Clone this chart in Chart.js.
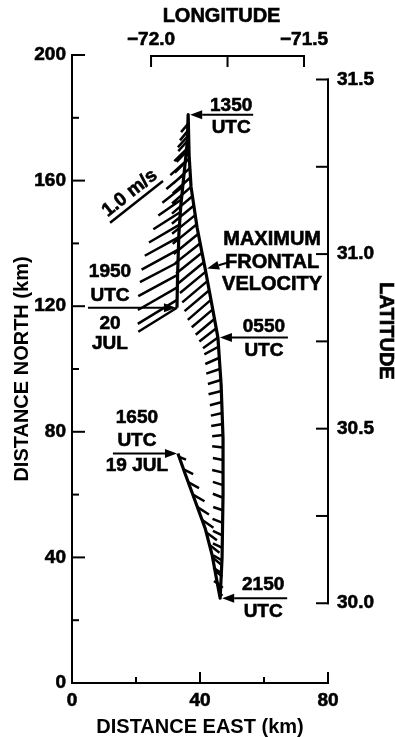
<!DOCTYPE html>
<html>
<head>
<meta charset="utf-8">
<style>
  html, body { margin: 0; padding: 0; background: #fff; }
  canvas { display: block; }
</style>
<script src="https://cdn.jsdelivr.net/npm/chart.js@4.4.1/dist/chart.umd.min.js"></script>
</head>
<body>
<canvas id="front" width="395" height="737"></canvas>
<script>
// front track (km east, km north), in time order:
// 1650 UTC 19 JUL -> 2150 UTC -> 0550 UTC -> 1350 UTC -> 1950 UTC 20 JUL
const trackEast  = [33.1, 35.3, 38.4, 41.6, 43.8, 45.3, 46.3, 46.9, 47.2, 47.2, 46.6, 45.6, 43.8, 41.6, 39.1, 37.2, 36.6, 36.3, 36.0, 35.3, 34.0, 33.4, 33.0, 32.8];
const trackNorth = [73.1, 66.8, 58.2, 49.3, 40.7, 32.4, 27.0, 40.0, 60.0, 78.0, 95.0, 110.0, 120.0, 132.0, 145.0, 158.0, 168.0, 181.0, 172.0, 165.0, 152.0, 143.0, 130.0, 119.5];

// time marks along the track (index into the track arrays)
const stampIndex = [0, 6, 11, 17, 23];
const stampText  = [['1650', 'UTC', '19 JUL'], ['2150', 'UTC'], ['0550', 'UTC'], ['1350', 'UTC'], ['1950', 'UTC', '20', 'JUL']];
const maxVelocityIndex = 13;

// velocity sticks: base point on the track (km) and components (m/s)
const vecEast = [
  33.5, 34.9, 36.3, 37.8, 39.2, 40.6, 41.9, 42.9, 43.9, 44.6, 45.4, 45.9,
  46.5, 46.7, 46.9, 47.0, 47.0, 47.1, 47.1, 47.2, 47.2, 47.2, 47.2, 47.2,
  47.2, 47.1, 47.0, 46.9, 46.7, 46.5, 46.2, 45.9, 45.6,
  45.6, 45.1, 44.6, 44.0, 43.4, 42.8, 42.3, 41.8, 41.2, 40.6, 40.0, 39.4, 38.9, 38.5, 38.0, 37.6, 37.2, 37.0, 36.8, 36.6, 36.5, 36.4, 36.3,
  36.2, 36.05, 35.8, 35.4, 35.0, 34.6, 34.2, 33.9, 33.6, 33.35, 33.2, 33.1, 33.0, 32.9, 32.85, 32.8
];
const vecNorth = [
  72, 68, 64, 60, 56, 52, 48, 44, 40, 36, 32, 29,
  31, 35, 39, 43, 47, 51, 55, 59, 63, 67, 71, 75,
  79, 82.5, 86, 89.5, 93, 96.5, 100, 103.5, 107,
  110, 113, 116, 119, 122, 125, 128, 131, 134, 137, 140, 143, 146, 149, 152, 155, 158, 161, 164, 167, 170, 173, 176,
  178, 174, 170, 166, 162, 158, 154, 150, 146, 142, 138, 134, 130, 126, 122, 119.5
];
const vecU = [
  0.10, 0.14, 0.16, 0.17, 0.17, 0.17, 0.16, 0.15, 0.13, 0.11, 0.08, 0.05,
  -0.10, -0.12, -0.13, -0.14, -0.14, -0.15, -0.14, -0.15, -0.15, -0.16, -0.15, -0.16,
  -0.16, -0.17, -0.17, -0.18, -0.19, -0.19, -0.20, -0.20, -0.20,
  -0.22, -0.25, -0.28, -0.31, -0.34, -0.36, -0.37, -0.38, -0.38, -0.38, -0.37, -0.36, -0.35, -0.34, -0.32, -0.30, -0.28, -0.26, -0.24, -0.21, -0.18, -0.15, -0.12,
  -0.10, -0.14, -0.18, -0.22, -0.26, -0.30, -0.34, -0.40, -0.45, -0.50, -0.54, -0.56, -0.58, -0.58, -0.58, -0.57
];
const vecV = [
  -0.04, -0.07, -0.09, -0.10, -0.11, -0.12, -0.12, -0.12, -0.11, -0.10, -0.08, -0.06,
  0.07, 0.08, 0.08, 0.07, 0.07, 0.06, 0.05, 0.06, 0.05, 0.04, 0.03, 0.02,
  -0.02, -0.03, -0.04, -0.05, -0.05, -0.06, -0.07, -0.09, -0.11,
  -0.16, -0.20, -0.24, -0.27, -0.30, -0.31, -0.32, -0.32, -0.32, -0.31, -0.30, -0.30, -0.29, -0.28, -0.27, -0.26, -0.25, -0.24, -0.23, -0.21, -0.19, -0.17, -0.15,
  -0.12, -0.16, -0.18, -0.20, -0.22, -0.24, -0.24, -0.26, -0.27, -0.28, -0.30, -0.30, -0.32, -0.34, -0.36, -0.36
];

// 1.0 m/s reference stick
const scaleBarBase = [11.9, 146.6];
const scaleBarUV = [0.78, 0.627];
const KM_PER_MS = 21.2;

// axis ticks
const eastTicks = [0, 20, 40, 60, 80];
const northTicks = [0, 20, 40, 60, 80, 100, 120, 140, 160, 180, 200];
const latTicks = [30.0, 30.25, 30.5, 30.75, 31.0, 31.25, 31.5];
const lonTicks = [-72.0, -71.75, -71.5];

// geographic axes tied to the km grid
const LAT_MIN = 29.7716, KM_PER_DEG_LAT = 111.2;
const LON_MIN = -72.2584, KM_PER_DEG_LON = 95.6;

const FONT = '"Liberation Sans", Arial, sans-serif';

const track = trackEast.map((e, i) => ({ x: e, y: trackNorth[i] }));
const sticks = [];
vecEast.forEach((e, i) => {
  const n = vecNorth[i];
  sticks.push({ x: e, y: n }, { x: e + vecU[i] * KM_PER_MS, y: n + vecV[i] * KM_PER_MS }, { x: e, y: null });
});
const scaleBar = [
  { x: scaleBarBase[0], y: scaleBarBase[1] },
  { x: scaleBarBase[0] + scaleBarUV[0] * KM_PER_MS, y: scaleBarBase[1] + scaleBarUV[1] * KM_PER_MS }
];

function seg(ctx, x0, y0, x1, y1) {
  ctx.beginPath(); ctx.moveTo(x0, y0); ctx.lineTo(x1, y1); ctx.stroke();
}

function arrow(ctx, x0, y0, x1, y1) {
  const a = Math.atan2(y1 - y0, x1 - x0), L = 12, W = 4.5;
  const bx = x1 - L * Math.cos(a), by = y1 - L * Math.sin(a);
  seg(ctx, x0, y0, bx, by);
  ctx.beginPath();
  ctx.moveTo(x1, y1);
  ctx.lineTo(bx + W * Math.sin(a), by - W * Math.cos(a));
  ctx.lineTo(bx - W * Math.sin(a), by + W * Math.cos(a));
  ctx.closePath(); ctx.fill();
}

function text(ctx, s, x, y, size) {
  ctx.font = 'bold ' + size + 'px ' + FONT;
  ctx.lineWidth = 0.6;
  ctx.strokeText(s, x, y);
  ctx.fillText(s, x, y);
}

// axes frame, inward ticks, brackets and annotations
const frame = {
  id: 'frame',
  afterDatasetsDraw(chart) {
    const { ctx, chartArea: a } = chart;
    const { x, y, lat, lon } = chart.scales;
    ctx.save();
    ctx.strokeStyle = '#000';
    ctx.fillStyle = '#000';
    ctx.lineWidth = 2;
    ctx.lineCap = 'square';

    seg(ctx, a.left, a.top, a.left, a.bottom);
    northTicks.forEach(v => {
      const py = y.getPixelForValue(v);
      seg(ctx, a.left, py, a.left + (v % 40 === 0 ? 12 : 6), py);
    });

    seg(ctx, a.left, a.bottom, a.right, a.bottom);
    eastTicks.forEach(v => {
      const px = x.getPixelForValue(v);
      seg(ctx, px, a.bottom, px, a.bottom - (v % 40 === 0 ? 10 : 5));
    });

    const latTop = lat.getPixelForValue(latTicks[latTicks.length - 1]);
    const latBot = lat.getPixelForValue(latTicks[0]);
    seg(ctx, a.right, latTop, a.right, latBot);
    latTicks.forEach(v => {
      const py = lat.getPixelForValue(v);
      seg(ctx, a.right, py, a.right - 11, py);
    });

    const lonL = lon.getPixelForValue(lonTicks[0]);
    const lonR = lon.getPixelForValue(lonTicks[lonTicks.length - 1]);
    const by = a.top + 1;
    seg(ctx, lonL, by, lonR, by);
    lonTicks.forEach(v => {
      const px = lon.getPixelForValue(v);
      seg(ctx, px, by, px, by + 10);
    });

    ctx.textAlign = 'center';
    ctx.textBaseline = 'middle';
    text(ctx, 'LONGITUDE', (lonL + lonR) / 2 - 6, 16, 20);
    ctx.save();
    ctx.translate(386, 331);
    ctx.rotate(Math.PI / 2);
    text(ctx, 'LATITUDE', 0, 0, 20);
    ctx.restore();

    // time stamps: arrow toward the track point, text beside it
    const layout = [
      { dx: -65, tx: -41, dy: [-36, -13, 12] },
      { dx: 67, tx: 43, dy: [-13, 14] },
      { dx: 70, tx: 46, dy: [-11, 13] },
      { dx: 65, tx: 43, dy: [-9, 13] },
      { dx: -89, tx: -67, dy: [-36, -12, 16, 36] }
    ];
    stampIndex.forEach((k, i) => {
      const px = x.getPixelForValue(trackEast[k]);
      const py = y.getPixelForValue(trackNorth[k]);
      const L = layout[i];
      ctx.lineWidth = 2;
      ctx.lineCap = 'butt';
      arrow(ctx, px + L.dx, py, px + (L.dx > 0 ? 2 : -1), py);
      stampText[i].forEach((s, j) => text(ctx, s, px + L.tx, py + L.dy[j], 19));
    });

    const mx = x.getPixelForValue(trackEast[maxVelocityIndex]);
    const my = y.getPixelForValue(trackNorth[maxVelocityIndex]);
    ctx.lineWidth = 2;
    arrow(ctx, mx + 23, my - 6, mx + 2, my);
    ['MAXIMUM', 'FRONTAL', 'VELOCITY'].forEach((s, j) => text(ctx, s, mx + 67, my - 29 + j * 22.5, 20));

    // label along the reference stick
    const s0x = x.getPixelForValue(scaleBar[0].x), s0y = y.getPixelForValue(scaleBar[0].y);
    const s1x = x.getPixelForValue(scaleBar[1].x), s1y = y.getPixelForValue(scaleBar[1].y);
    const ang = Math.atan2(s1y - s0y, s1x - s0x);
    ctx.save();
    ctx.translate((s0x + s1x) / 2 + 11 * Math.sin(ang), (s0y + s1y) / 2 - 11 * Math.cos(ang));
    ctx.rotate(ang);
    text(ctx, '1.0 m/s', 0, 0, 19);
    ctx.restore();

    ctx.restore();
  }
};

const tickFont = { family: FONT, size: 19, weight: 'bold' };
const titleFont = { family: FONT, size: 20, weight: 'bold', lineHeight: 1 };
const noGrid = { display: false, drawTicks: false };
const tickStyle = { color: '#000', font: tickFont, textStrokeColor: '#000', textStrokeWidth: 0.6 };

new Chart(document.getElementById('front'), {
  type: 'scatter',
  data: {
    datasets: [
      { data: sticks, showLine: true, spanGaps: false, borderColor: '#000', borderWidth: 2.5, pointRadius: 0, borderCapStyle: 'butt' },
      { data: track, showLine: true, borderColor: '#000', borderWidth: 3.2, pointRadius: 0, borderJoinStyle: 'round' },
      { data: scaleBar, showLine: true, borderColor: '#000', borderWidth: 2.5, pointRadius: 0 }
    ]
  },
  options: {
    responsive: false,
    animation: false,
    events: [],
    plugins: { legend: { display: false }, tooltip: { enabled: false } },
    layout: { padding: 0 },
    scales: {
      x: {
        type: 'linear', position: 'bottom', min: 0, max: 80,
        afterBuildTicks: s => { s.ticks = eastTicks.map(v => ({ value: v })); },
        ticks: { ...tickStyle, padding: 6, maxRotation: 0, callback: v => (v % 40 === 0 ? v : '') },
        grid: noGrid, border: { display: false },
        title: { display: true, text: 'DISTANCE EAST (km)', color: '#000', font: titleFont, padding: { top: 0, bottom: 0 } },
        afterFit: s => { s.height = 54; }
      },
      y: {
        type: 'linear', position: 'left', min: 0, max: 200,
        afterBuildTicks: s => { s.ticks = northTicks.map(v => ({ value: v })); },
        ticks: { ...tickStyle, padding: 6, callback: v => (v % 40 === 0 ? v : '') },
        grid: noGrid, border: { display: false },
        title: { display: true, text: 'DISTANCE NORTH (km)', color: '#000', font: titleFont, padding: { top: 12, bottom: 0 } },
        afterFit: s => { s.width = 72; }
      },
      lon: {
        type: 'linear', axis: 'x', position: 'top',
        min: LON_MIN, max: LON_MIN + 80 / KM_PER_DEG_LON,
        afterBuildTicks: s => { s.ticks = lonTicks.map(v => ({ value: v })); },
        ticks: { ...tickStyle, padding: 4, maxRotation: 0,
                 callback: v => (Math.abs(v + 71.75) < 1e-6 ? '' : '\u2212' + Math.abs(v).toFixed(1)) },
        grid: noGrid, border: { display: false },
        afterFit: s => { s.height = 55; }
      },
      lat: {
        type: 'linear', axis: 'y', position: 'right',
        min: LAT_MIN, max: LAT_MIN + 200 / KM_PER_DEG_LAT,
        afterBuildTicks: s => { s.ticks = latTicks.map(v => ({ value: v })); },
        ticks: { ...tickStyle, padding: 9,
                 callback: v => (Math.round(v * 100) % 50 === 0 ? v.toFixed(1) : '') },
        grid: noGrid, border: { display: false },
        afterFit: s => { s.width = 67; }
      }
    }
  },
  plugins: [frame]
});
</script>
</body>
</html>
